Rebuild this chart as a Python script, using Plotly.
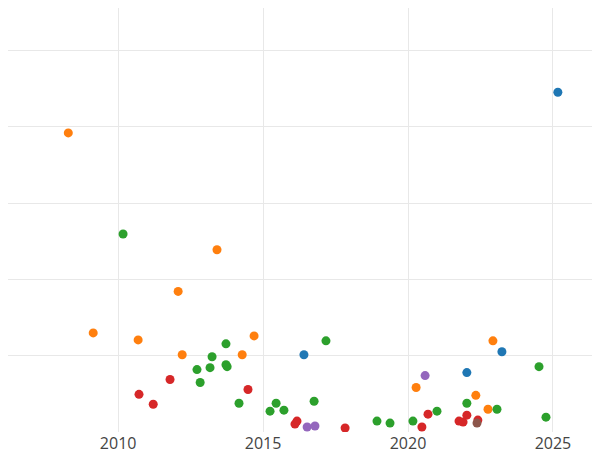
import plotly.graph_objects as go

blue_x = [2025.17, 2016.41, 2023.24, 2022.03]
blue_y = [4.455, 1.013, 1.052, 0.779]
orange_x = [2008.28, 2013.41, 2012.07, 2009.14, 2010.69, 2014.69, 2012.21, 2014.28, 2022.93, 2020.28, 2022.34, 2022.76]
orange_y = [3.922, 2.39, 1.844, 1.299, 1.208, 1.26, 1.013, 1.013, 1.195, 0.584, 0.481, 0.299]
green_x = [2010.17, 2013.72, 2017.17, 2013.24, 2012.72, 2013.17, 2013.72, 2013.76, 2012.83, 2014.17, 2015.45, 2015.24, 2015.72,
           2016.76, 2018.93, 2019.38, 2020.17, 2021.0, 2022.03, 2023.07, 2024.52, 2024.76]
green_y = [2.597, 1.156, 1.195, 0.987, 0.818, 0.844, 0.883, 0.857, 0.649, 0.377, 0.377, 0.273, 0.286,
           0.403, 0.143, 0.117, 0.143, 0.273, 0.377, 0.299, 0.857, 0.195]
red_x = [2011.79, 2010.72, 2011.21, 2014.48, 2016.17, 2016.10, 2017.83, 2020.48, 2020.69, 2022.03, 2021.76, 2021.90, 2022.41]
red_y = [0.688, 0.494, 0.364, 0.558, 0.143, 0.104, 0.052, 0.065, 0.234, 0.221, 0.143, 0.13, 0.156]
purple_x = [2020.59, 2016.52, 2016.79]
purple_y = [0.74, 0.065, 0.078]
brown_x = [2022.38]
brown_y = [0.117]

series = [(blue_x, blue_y, '#1f77b4'), (orange_x, orange_y, '#ff7f0e'), (green_x, green_y, '#2ca02c'),
          (red_x, red_y, '#d62728'), (purple_x, purple_y, '#9467bd'), (brown_x, brown_y, '#8c564b')]

fig = go.Figure()
for x, y, c in series:
    fig.add_trace(go.Scatter(x=x, y=y, mode='markers', marker=dict(color=c, size=9), showlegend=False))

fig.update_layout(width=600, height=450, margin=dict(l=0, r=0, t=0, b=26, pad=0),
                  plot_bgcolor='white', paper_bgcolor='white',
                  font=dict(family='Open Sans', size=16, color='#444'))
fig.update_xaxes(range=[2006.2, 2026.9], tickvals=[2010, 2015, 2020, 2025], showgrid=True,
                 gridcolor='#e8e8e8', zeroline=False, automargin=False)
fig.update_yaxes(range=[0.0, 5.56], tickvals=[0, 1, 2, 3, 4, 5], showticklabels=False,
                 showgrid=True, gridcolor='#e8e8e8', zeroline=False, automargin=False)
fig.write_html("out.html")
